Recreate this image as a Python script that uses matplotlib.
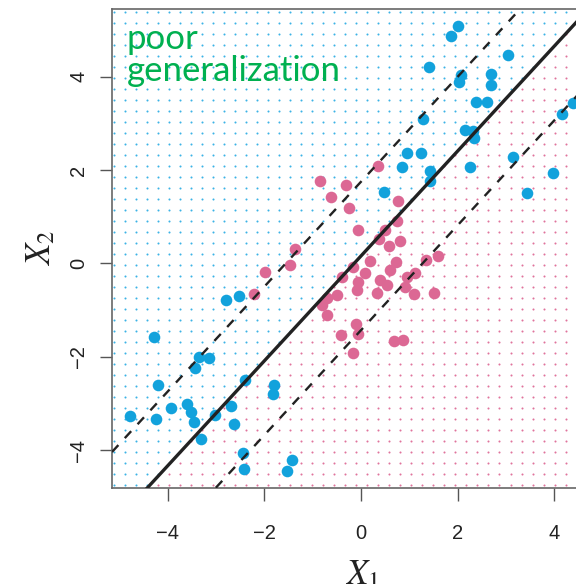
import numpy as np
import matplotlib.pyplot as plt

# training observations, class +1 (blue)
blue_x1 = [2.00, 1.86, 3.05, 1.41, 2.07, 2.03, 2.69, 2.69, 2.39, 2.61,
           4.39, 4.16, 1.28, 2.16, 2.33, 2.35, 0.96, 1.25, 3.16, 0.86,
           2.26, 1.42, 1.43, 3.97, 0.48, 3.43,
           -4.28, -3.36, -3.14, -3.44, -4.21, -2.41, -1.80, -1.83, -3.93, -3.60,
           -3.53, -2.70, -4.79, -4.25, -3.47, -3.03, -2.63, -3.31, -2.44, -2.43,
           -1.42, -1.53, -2.80, -2.52]
blue_x2 = [5.08, 4.87, 4.46, 4.21, 4.03, 3.89, 4.06, 3.83, 3.45, 3.45,
           3.43, 3.21, 3.10, 2.86, 2.83, 2.69, 2.37, 2.37, 2.27, 2.07,
           2.07, 1.98, 1.76, 1.93, 1.53, 1.51,
           -1.57, -2.01, -2.02, -2.23, -2.60, -2.49, -2.61, -2.79, -3.09, -3.02,
           -3.18, -3.05, -3.27, -3.34, -3.40, -3.25, -3.44, -3.77, -4.06, -4.40,
           -4.21, -4.44, -0.79, -0.70]

# training observations, class -1 (pink)
pink_x1 = [-1.37, -1.47, -1.98, -2.22, 0.36, -0.84, -0.31, -0.63, -0.25, 0.77,
           -0.06, 0.74, 0.50, 0.38, 0.81, 0.57, 1.59, 0.19, 0.73, 1.35,
           0.60, 0.08, -0.40, -0.06, 0.39, 0.53, 0.95, 1.12, 0.91, -0.09,
           0.33, 1.10, 1.51, -0.50, -0.71, -0.81, -0.70, -0.11, -0.06, -0.42,
           0.69, 0.88, -0.17, -0.16]
pink_x2 = [0.30, -0.04, -0.18, -0.66, 2.09, 1.76, 1.68, 1.43, 1.18, 1.33,
           0.71, 0.91, 0.71, 0.52, 0.48, 0.38, 0.16, 0.05, 0.02, 0.07,
           -0.14, -0.21, -0.30, -0.39, -0.36, -0.46, -0.29, -0.21, -0.50, -0.57,
           -0.64, -0.66, -0.64, -0.68, -0.75, -0.89, -1.11, -1.29, -1.51, -1.54,
           -1.66, -1.64, -1.92, -0.07]

# fitted hyperplane x2 = slope * x1 + intercept, margins at +/- margin
slope = 1.122
intercept = 0.16
margin = 1.59

blue = '#12a2dc'
pink = '#dc6894'

plt.rcParams['mathtext.fontset'] = 'stix'

fig = plt.figure(figsize=(5.76, 5.84), dpi=100)
ax = fig.add_axes([0.1944, 0.1644, 0.868, 0.8202])
xlim = (-5.16, 5.2)
ylim = (-4.81, 5.45)

# classification grid in the background
gx, gy = np.meshgrid(np.linspace(-5.11, 5.15, 46), np.linspace(-4.75, 5.38, 44))
above = gy > slope * gx + intercept
ax.scatter(gx[above], gy[above], s=2.2, c='#3bb3e6', linewidths=0, zorder=1)
ax.scatter(gx[~above], gy[~above], s=2.2, c='#e0739c', linewidths=0, zorder=1)

ax.scatter(blue_x1, blue_x2, s=70, c=blue, linewidths=0, zorder=2)
ax.scatter(pink_x1, pink_x2, s=70, c=pink, linewidths=0, zorder=2)

xx = np.array(xlim)
ax.plot(xx, slope * xx + intercept, color='#222222', lw=2.4, zorder=3)
for off in (margin, -margin):
    ax.plot(xx, slope * xx + intercept + off, color='#222222', lw=1.7,
            dashes=(4, 4), zorder=3)

ax.set_xlim(xlim)
ax.set_ylim(ylim)
ax.set_xticks([-4, -2, 0, 2, 4])
ax.set_yticks([-4, -2, 0, 2, 4])
ax.set_xticklabels(['\u22124', '\u22122', '0', '2', '4'])
ax.set_yticklabels(['\u22124', '\u22122', '0', '2', '4'], rotation=90, va='center')
ax.tick_params(length=9, width=1, color='#555555', labelsize=14.5,
               labelcolor='#222222')
ax.tick_params(axis='x', pad=17)
ax.tick_params(axis='y', pad=8)
for lab in ax.get_xticklabels() + ax.get_yticklabels():
    lab.set_family('Liberation Sans')
for sp in ax.spines.values():
    sp.set_color('#666666')
    sp.set_linewidth(1.2)

ax.set_xlabel('$X_1$', fontsize=25, labelpad=10, color='#222222')
ax.set_ylabel('$X_2$', fontsize=25, labelpad=9, color='#222222')

ax.text(0.03, 0.97, 'poor\ngeneralization', transform=ax.transAxes,
        fontsize=25, color='#00b050', family=['Lato', 'DejaVu Sans'],
        va='top', ha='left', linespacing=1.0, zorder=4)

fig.savefig('out.png', dpi=100)
